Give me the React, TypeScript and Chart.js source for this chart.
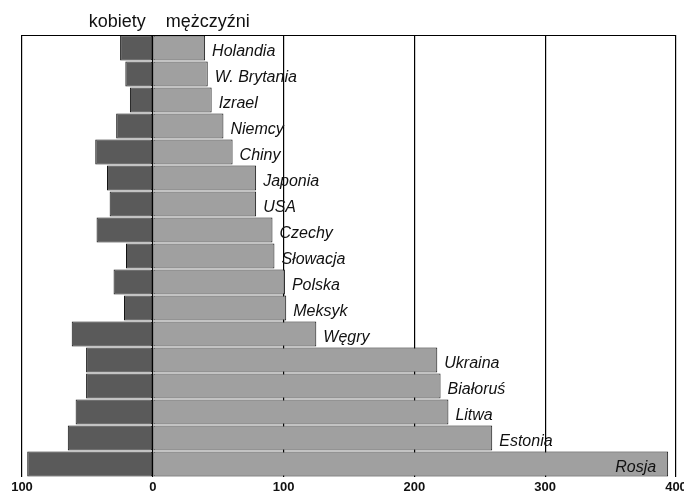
import React, { useEffect, useRef } from "react";
import { Chart, registerables } from "chart.js";

Chart.register(...registerables);

const countries = [
  "Holandia", "W. Brytania", "Izrael", "Niemcy", "Chiny", "Japonia", "USA",
  "Czechy", "Słowacja", "Polska", "Meksyk", "Węgry", "Ukraina", "Białoruś",
  "Litwa", "Estonia", "Rosja",
];
const women = [-25, -21, -17.5, -28, -44, -35, -33, -43, -20.5, -30, -22, -62, -51, -51, -59, -65, -96];
const men = [40, 42, 45, 54, 61, 79, 79, 91.5, 93, 101, 102, 125, 217.5, 220, 226, 259.5, 394];
const xTicks = [-100, 0, 100, 200, 300, 400];
const legendLeft = "kobiety";
const legendRight = "mężczyźni";

const FONT = "'Liberation Sans', Arial, sans-serif";

const decor = {
  id: "decor",
  afterDraw(chart: any) {
    const ctx = chart.ctx;
    const area = chart.chartArea;
    const xs = chart.scales.x;
    ctx.save();
    // top frame line
    ctx.strokeStyle = "#000";
    ctx.lineWidth = 1.2;
    ctx.beginPath();
    ctx.moveTo(area.left, area.top + 0.5);
    ctx.lineTo(area.right, area.top + 0.5);
    ctx.stroke();

    // tick labels
    ctx.fillStyle = "#111";
    ctx.font = `bold 13px ${FONT}`;
    ctx.textAlign = "center";
    ctx.textBaseline = "middle";
    xTicks.forEach((v) => {
      ctx.fillText(String(Math.abs(v)), xs.getPixelForValue(v), area.bottom + 10);
    });

    // legend header
    const zero = xs.getPixelForValue(0);
    ctx.font = `18px ${FONT}`;
    ctx.textAlign = "right";
    ctx.fillText(legendLeft, zero - 7, 22);
    ctx.textAlign = "left";
    ctx.fillText(legendRight, zero + 13, 22);

    // country labels
    const meta = chart.getDatasetMeta(1);
    ctx.font = `italic 16px ${FONT}`;
    countries.forEach((name, i) => {
      const el = meta.data[i];
      const x = xs.getPixelForValue(men[i]);
      const y = el.y + 4;
      if (i === countries.length - 1) {
        ctx.textAlign = "right";
        ctx.fillText(name, x - 12, y);
      } else {
        ctx.textAlign = "left";
        ctx.fillText(name, x + 7, y);
      }
    });
    ctx.restore();
  },
};

export default function App() {
  const ref = useRef<HTMLCanvasElement>(null);
  useEffect(() => {
    if (!ref.current) return;
    const chart = new Chart(ref.current, {
      type: "bar",
      data: {
        labels: countries,
        datasets: [
          {
            label: legendLeft,
            data: women,
            backgroundColor: "#5a5a5a",
            borderColor: "#111",
            borderWidth: 1,
            borderSkipped: false,
            barPercentage: 0.96,
            categoryPercentage: 1,
          },
          {
            label: legendRight,
            data: men,
            backgroundColor: "#a0a0a0",
            borderColor: "#111",
            borderWidth: 1,
            borderSkipped: false,
            barPercentage: 0.96,
            categoryPercentage: 1,
          },
        ],
      },
      options: {
        indexAxis: "y",
        animation: false,
        responsive: false,
        maintainAspectRatio: false,
        layout: { padding: { left: 22, right: 8, top: 35, bottom: 22 } },
        plugins: {
          legend: { display: false },
          tooltip: { enabled: false },
          title: { display: false },
        },
        scales: {
          x: {
            type: "linear",
            stacked: true,
            min: -100,
            max: 400,
            z: 1,
            ticks: { display: false, stepSize: 100 },
            grid: { color: "#000", lineWidth: 1.2, drawTicks: false },
            border: { display: false },
          },
          y: {
            stacked: true,
            display: false,
          },
        },
      },
      plugins: [decor],
    });
    return () => chart.destroy();
  }, []);
  return (
    <div style={{ position: "fixed", left: 0, top: 0, width: 684, height: 499, background: "#fff" }}>
      <canvas ref={ref} width={684} height={499} style={{ width: 684, height: 499 }} />
    </div>
  );
}
